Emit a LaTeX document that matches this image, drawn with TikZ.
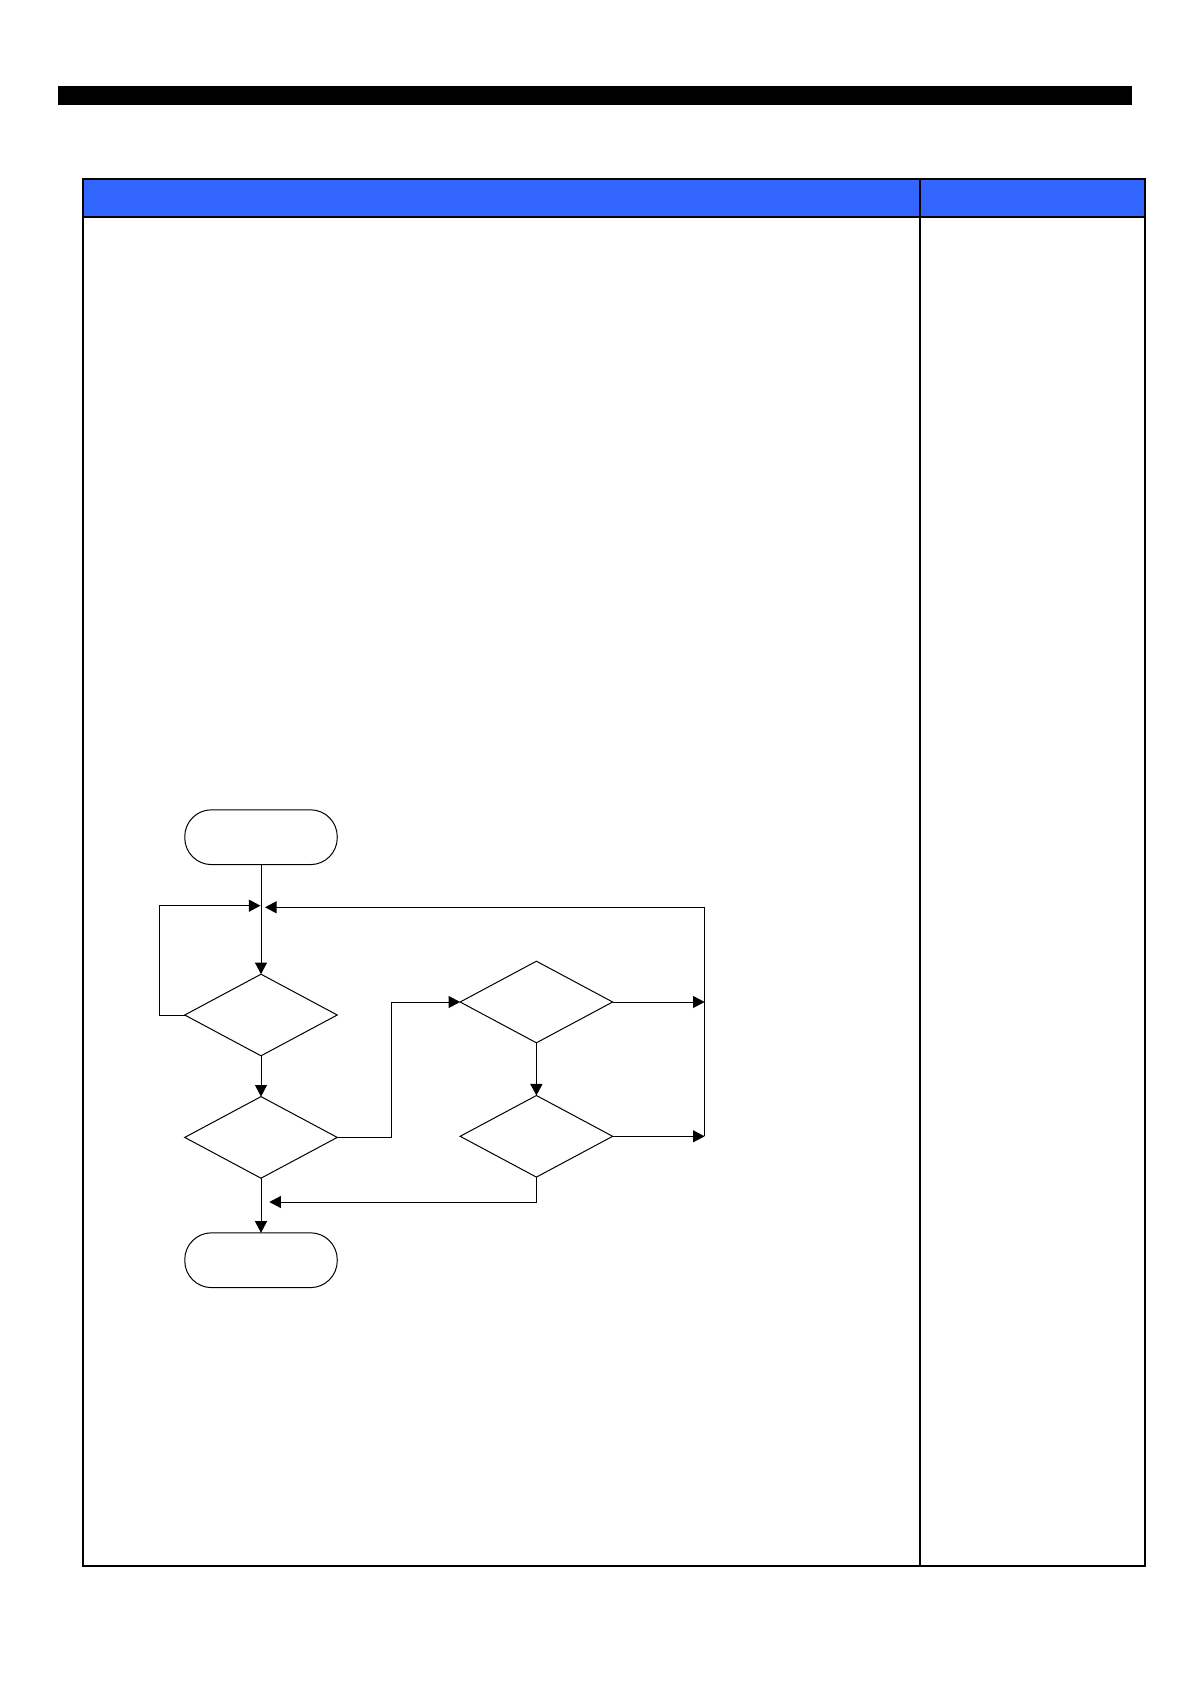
\documentclass[tikz,border=0pt]{standalone}
\usetikzlibrary{shapes.geometric,arrows.meta}
\definecolor{hdrblue}{RGB}{51,102,255}
\begin{document}
\begin{tikzpicture}[x=0.5pt,y=-0.5pt,
  flow/.style={line width=0.5pt,-{Triangle[length=5.8pt,width=6pt]}},
  plain/.style={line width=0.5pt},
  term/.style={draw,line width=0.5pt,rectangle,rounded corners=13.4pt,minimum width=76.25pt,minimum height=27.4pt,inner sep=0pt,outer sep=0pt},
  dec/.style={draw,line width=0.5pt,diamond,minimum width=76.25pt,minimum height=40.8pt,inner sep=0pt,outer sep=0pt},
  tbl/.style={line width=1pt}]
\useasboundingbox (0,0) rectangle (1190,1684);
% top black bar
\fill[black] (58,86) rectangle (1132,104.7);
% table
\fill[hdrblue] (83,179.3) rectangle (1145,217.3);
\draw[tbl] (83,179.3) rectangle (1145,1566);
\draw[tbl] (83,217.3) -- (1145,217.3);
\draw[tbl] (920,179.3) -- (920,1566);
% flowchart nodes
\node[term] (start) at (261,837.2) {};
\node[dec] (d1) at (261,1015) {};
\node[dec] (d2) at (261,1137.4) {};
\node[dec] (d3) at (536.4,1002) {};
\node[dec] (d4) at (536.4,1136.3) {};
\node[term] (stop) at (261,1260.2) {};
% helper coordinates
\coordinate (jL) at (260.5,905.7);
\coordinate (loopL) at (159,905.7);
\coordinate (jR) at (265,907.3);
\coordinate (r0) at (704.6,907.3);
\coordinate (r3) at (704.6,1002);
\coordinate (r4) at (704.6,1136.3);
\coordinate (bend) at (391,1002);
\coordinate (ret) at (269.3,1202);
% connectors
\draw[flow] (start.south) -- (d1.north);
\draw[flow] (d1.west) -| (loopL) -- (jL);
\draw[flow] (r4) -- (r0) -- (jR);
\draw[flow] (d3.east) -- (r3);
\draw[flow] (d4.east) -- (r4);
\draw[flow] (d2.east) -| (bend) -- (d3.west);
\draw[flow,line width=0.9pt] (d3.south) -- (d4.north);
\draw[flow] (d4.south) |- (ret);
\draw[flow] (d1.south) -- (d2.north);
\draw[flow] (d2.south) -- (stop.north);
\end{tikzpicture}
\end{document}
